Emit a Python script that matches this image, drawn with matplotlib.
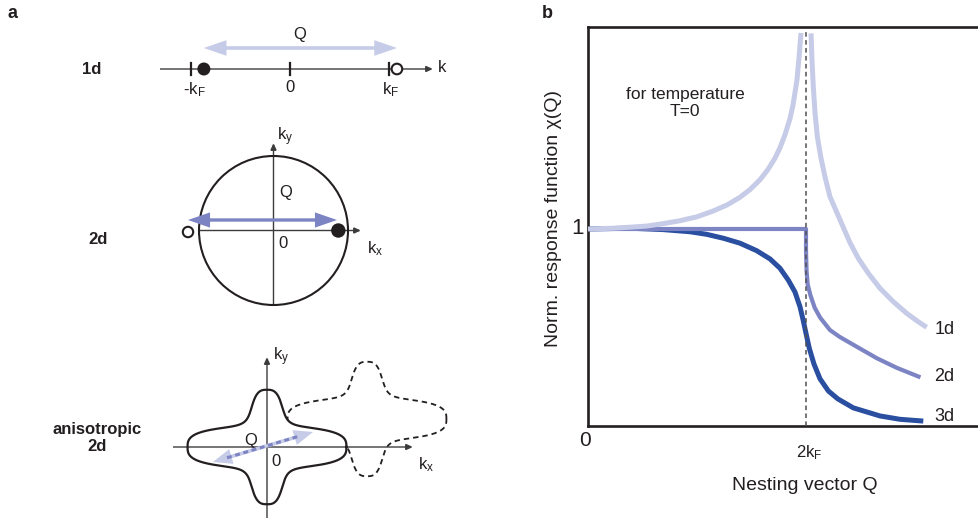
import numpy as np
import matplotlib
matplotlib.use("Agg")
import matplotlib.pyplot as plt
from matplotlib.patches import FancyArrowPatch, ArrowStyle, Circle, Polygon

plt.rcParams['font.family'] = ['Liberation Sans', 'DejaVu Sans']
plt.rcParams['mathtext.fontset'] = 'custom'
plt.rcParams['mathtext.rm'] = 'Liberation Sans'
plt.rcParams['mathtext.it'] = 'Liberation Sans:italic'
plt.rcParams['mathtext.bf'] = 'Liberation Sans:bold'

# ---------------------------------------------------------------
# Normalised response chi(Q) at T=0, Q in units of k_F
# ---------------------------------------------------------------
q_1d_below = [0.000, 0.229, 0.385, 0.541, 0.688, 0.844, 1.000, 1.147, 1.275, 1.394, 1.486,
              1.578, 1.651, 1.716, 1.761, 1.807, 1.853, 1.881, 1.917, 1.936, 1.954]
chi_1d_below = [1.000, 1.004, 1.009, 1.015, 1.027, 1.042, 1.062, 1.091, 1.122, 1.161, 1.200,
                1.250, 1.302, 1.360, 1.412, 1.478, 1.560, 1.630, 1.755, 1.870, 1.995]
q_1d_above = [2.046, 2.055, 2.067, 2.083, 2.104, 2.135, 2.174, 2.220, 2.282, 2.404,
              2.480, 2.572, 2.679, 2.801, 2.924, 3.030, 3.107]
chi_1d_above = [1.993, 1.858, 1.722, 1.589, 1.469, 1.367, 1.265, 1.164, 1.085, 0.930,
                0.851, 0.775, 0.699, 0.631, 0.572, 0.529, 0.501]
q_2d = [0.000, 2.000, 2.000, 2.005, 2.015, 2.040, 2.080, 2.130, 2.220, 2.310, 2.470,
        2.650, 2.830, 3.050]
chi_2d = [1.000, 1.000, 0.890, 0.790, 0.720, 0.665, 0.600, 0.550, 0.487, 0.452, 0.401,
          0.344, 0.296, 0.247]
q_3d = [0.000, 0.385, 0.688, 0.936, 1.089, 1.242, 1.394, 1.547, 1.670, 1.761, 1.837,
        1.899, 1.945, 1.975, 2.000, 2.030, 2.073, 2.128, 2.205, 2.291, 2.434, 2.679,
        2.862, 3.076]
chi_3d = [1.000, 1.004, 0.997, 0.986, 0.973, 0.953, 0.928, 0.890, 0.848, 0.801, 0.741,
          0.680, 0.605, 0.535, 0.470, 0.395, 0.315, 0.240, 0.178, 0.138, 0.092, 0.051,
          0.034, 0.025]
curve_labels = ['1d', '2d', '3d']
q_nesting = 2.0          # 2 k_F

# colours
C1 = '#c6cbe7'
C2 = '#7c84c4'
C3 = '#2a4ea0'
INK = '#231f20'
AXG = '#3c3c3c'

W, H = 979, 523
fig = plt.figure(figsize=(W / 100, H / 100), dpi=100)


def arrow(ax, p0, p1, style, color, lw, hl, hw, z=3, **kw):
    a = FancyArrowPatch(p0, p1, arrowstyle=ArrowStyle(style, head_length=hl, head_width=hw),
                        color=color, lw=lw, shrinkA=0, shrinkB=0, mutation_scale=1,
                        zorder=z, joinstyle='miter', capstyle='butt', **kw)
    ax.add_patch(a)


def superellipse_r(t, a, b, m=3.0):
    return (np.abs(np.cos(t) / a) ** m + np.abs(np.sin(t) / b) ** m) ** (-1.0 / m)


def star(cx, cy, n=900):
    """Cross-shaped Fermi contour: two rounded arms joined with smooth fillets."""
    t = np.linspace(0, 2 * np.pi, n)
    r_x = superellipse_r(t, 78, 19)     # arm along k_x
    r_y = superellipse_r(t, 15, 54)     # arm along k_y
    r = np.sqrt(r_x ** 2 + r_y ** 2)
    return cx + r * np.cos(t), cy - r * np.sin(t)


# ================= panel a : Fermi surface sketches =================
axa = fig.add_axes([0, 0, 520 / W, 1])
axa.set_xlim(0, 520)
axa.set_ylim(H, 0)
axa.axis('off')

lab = dict(fontsize=12, color=INK, ha='center', va='center')
bold = dict(fontsize=12, color=INK, ha='center', va='center', fontweight='bold',
            multialignment='center')

# --- 1d ---
o1x, o1y, s1 = 290, 69, 99
arrow(axa, (160, o1y), (433, o1y), '-|>', AXG, 1.0, 4, 1.8)
for k in (-1, 0, 1):
    axa.plot([o1x + s1 * k] * 2, [o1y - 6, o1y + 6], color=INK, lw=1.6, zorder=4)
axa.add_patch(Circle((o1x - 0.87 * s1, o1y), 6.5, fc=INK, ec='none', zorder=5))
axa.add_patch(Circle((o1x + 1.08 * s1, o1y), 5.3, fc='white', ec=INK, lw=1.5, zorder=5))
arrow(axa, (o1x - 0.87 * s1, 48), (o1x + 1.08 * s1, 48), '<|-|>', C1, 2.6, 11, 3.8)
axa.text(300, 35, 'Q', **lab)
axa.text(194, 90, r'-k$_\mathregular{F}$', **lab)
axa.text(o1x, 88, '0', **lab)
axa.text(391, 90, r'k$_\mathregular{F}$', **lab)
axa.text(442, 68, 'k', **lab)
axa.text(92, 70, '1d', **bold)

# --- 2d ---
o2x, o2y, s2 = 273.5, 230.5, 74.5
axa.add_patch(Circle((o2x, o2y), s2, fc='none', ec=INK, lw=1.5, zorder=4))
arrow(axa, (o2x - s2, o2y), (361, o2y), '-|>', AXG, 1.0, 4, 1.8)
arrow(axa, (o2x, o2y + s2), (o2x, 143), '-|>', AXG, 1.0, 4, 1.8)
arrow(axa, (188, 220), (337, 220), '<|-|>', C2, 2.4, 11, 3.8, z=6)
axa.add_patch(Circle((o2x + 0.87 * s2, o2y), 7.2, fc=INK, ec='none', zorder=5))
axa.add_patch(Circle((188, 232), 5.2, fc='white', ec=INK, lw=1.5, zorder=5))
axa.text(285, 137, r'k$_\mathregular{y}$', **lab)
axa.text(286, 192, 'Q', **lab)
axa.text(283, 243, '0', **lab)
axa.text(375, 249, r'k$_\mathregular{x}$', **lab)
axa.text(98, 240, '2d', **bold)

# --- anisotropic 2d ---
o3x, o3y = 267, 447
shift = (100, -28)
sx, sy = star(o3x + shift[0], o3y + shift[1])
axa.plot(sx, sy, color=INK, lw=1.3, linestyle=(0, (3, 2.2)), zorder=1)
fx, fy = star(o3x, o3y)
axa.add_patch(Polygon(np.column_stack([fx, fy]), closed=True, fc='white', ec='none', zorder=2))
arrow(axa, (173, o3y), (413, o3y), '-|>', AXG, 1.0, 4, 1.8)
arrow(axa, (o3x, 518), (o3x, 357), '-|>', AXG, 1.0, 4, 1.8)
axa.plot(fx, fy, color=INK, lw=1.6, zorder=4)
arrow(axa, (213, 462), (313, 432), '<|-|>', C1, 2.6, 9, 3.6, z=5)
axa.plot([227, 299], [457.8, 436.2], color=C2, lw=2.2, linestyle=(0, (1.6, 1.2)),
         solid_capstyle='butt', zorder=6)
axa.text(281, 357, r'k$_\mathregular{y}$', **lab)
axa.text(426, 465, r'k$_\mathregular{x}$', **lab)
axa.text(276, 461, '0', **lab)
axa.text(251, 440, 'Q', **lab)
axa.text(97, 438, 'anisotropic\n2d', linespacing=1.15, **bold)

# ================= panel b : response function =================
px_per_q, px_per_chi = 109, 197
left, bottom, top, right = 588, 426, 27, 984
axb = fig.add_axes([left / W, (H - bottom) / H, (right - left) / W, (bottom - top) / H])
axb.set_xlim(0, (right - left) / px_per_q)
axb.set_ylim(0, (bottom - top) / px_per_chi)
axb.set_xticks([])
axb.set_yticks([])
for sp in axb.spines.values():
    sp.set_linewidth(1.9)
    sp.set_color(INK)

kw = dict(solid_capstyle='butt', solid_joinstyle='round', clip_on=True)
axb.plot(q_3d, chi_3d, color=C3, lw=3.6, zorder=2, **kw)
axb.plot(q_2d, chi_2d, color=C2, lw=3.0, zorder=3, **kw)
axb.plot(q_1d_below, chi_1d_below, color=C1, lw=3.6, zorder=4, **kw)
axb.plot(q_1d_above, chi_1d_above, color=C1, lw=3.6, zorder=4, **kw)
axb.axvline(q_nesting, ymin=0, ymax=0.988, color='#505050', lw=1.1,
            linestyle=(0, (3, 2.2)), zorder=5)

label_y = [0.49, 0.25, 0.05]
for name, yv in zip(curve_labels, label_y):
    axb.text(3.18, yv, name, fontsize=13, color=INK, ha='left', va='center')

axb.text(0.89, 1.64, 'for temperature\nT=0', fontsize=12.5, color=INK,
         ha='center', va='center', multialignment='center', linespacing=1.2)
axb.text(-0.03, -0.075, '0', fontsize=15, color=INK, ha='center', va='center', clip_on=False)
axb.text(-0.10, 1.0, '1', fontsize=16, color=INK, ha='center', va='center', clip_on=False)
axb.text(q_nesting + 0.03, -0.157, r'2k$_\mathregular{F}$', fontsize=12, color=INK,
         ha='center', va='baseline', clip_on=False)

fig.text(805 / W, 1 - 490 / H, 'Nesting vector Q', fontsize=14, color=INK,
         ha='center', va='baseline')
fig.text(553 / W, 1 - 218 / H, 'Norm. response function χ(Q)', fontsize=14, color=INK,
         ha='center', va='center', rotation=90)

# panel letters
fig.text(13 / W, 1 - 13 / H, 'a', fontsize=13, fontweight='bold', color=INK,
         ha='center', va='center')
fig.text(547 / W, 1 - 13 / H, 'b', fontsize=13, fontweight='bold', color=INK,
         ha='center', va='center')

fig.savefig('out.png', dpi=100)
